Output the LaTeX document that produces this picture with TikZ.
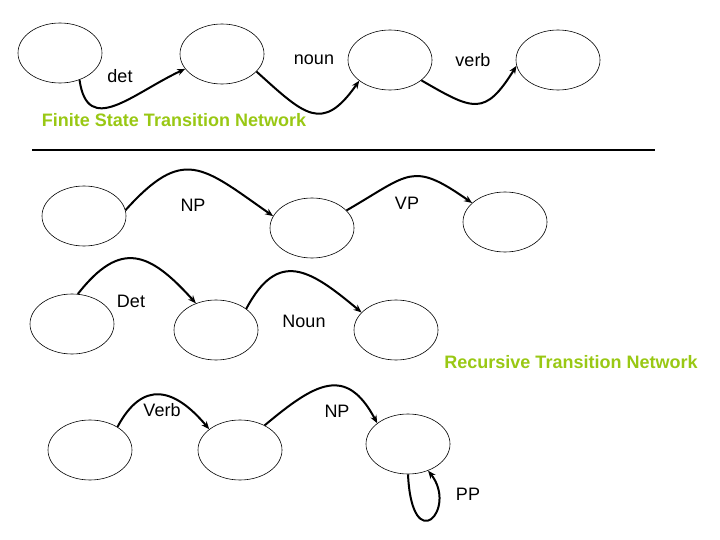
\documentclass[tikz,border=0pt]{standalone}
\usepackage{fontspec}
\setmainfont{Liberation Sans}
\usetikzlibrary{shapes.geometric,arrows.meta}
\definecolor{titlegreen}{RGB}{153,200,20}
\tikzset{
  state/.style={ellipse,draw,line width=0.6pt,minimum width=84pt,minimum height=60pt,inner sep=0pt},
  arc/.style={line width=2pt,-{Stealth[length=8pt,width=6.5pt]}},
  lbl/.style={font=\fontsize{18}{20}\selectfont,inner sep=0pt},
  ttl/.style={font=\fontsize{18}{20}\selectfont\bfseries,text=titlegreen,inner sep=0pt}
}
\begin{document}
\begin{tikzpicture}[x=1pt,y=-1pt]
\useasboundingbox (0,0) rectangle (720,540);
% top row
\node[state] (e1) at (60,53) {};
\node[state] (e2) at (222,54) {};
\node[state] (e3) at (390,60) {};
\node[state] (e4) at (558,60) {};
\draw[arc] (e1.-54) to[out=-82,in=205,looseness=1.4] (e2.202);
\draw[arc] (e2.-27) to[out=-42,in=235,looseness=1.6] (e3.214);
\draw[arc] (e3.-33) to[out=-30,in=238,looseness=1.6] (e4.188);
\node[lbl] (ldet) at (120,76) {det};
\node[lbl] (lnoun) at (314,60) {noun};
\node[lbl] (lverb) at (473,60) {verb};
\node[ttl] (t1) at (174,120) {Finite State Transition Network};
\coordinate (la) at (32,150);
\coordinate (lb) at (655,150);
\draw[line width=1.2pt] (la) -- (lb);
% middle row
\node[state] (e5) at (84,216) {};
\node[state] (e6) at (312,228) {};
\node[state] (e7) at (505,222) {};
\draw[arc] (e5.8) to[out=48,in=145,looseness=1.5] (e6.163);
\draw[arc] (e6.27) to[out=30,in=145,looseness=1.5] (e7.150);
\node[lbl] (lnp) at (193,205) {NP};
\node[lbl] (lvp) at (407,203) {VP};
% lower middle
\node[state] (e8) at (72,324) {};
\node[state] (e9) at (216,330) {};
\node[state] (e10) at (396,330) {};
\draw[arc] (e8.79) to[out=52,in=132,looseness=1.5] (e9.127);
\draw[arc] (e9.35) to[out=62,in=140,looseness=1.5] (e10.153);
\node[lbl] (lDet) at (131,301) {Det};
\node[lbl] (lNoun) at (304,321) {Noun};
\node[ttl] (t2) at (571,362) {Recursive Transition Network};
% bottom
\node[state] (e11) at (90,450) {};
\node[state] (e12) at (240,450) {};
\node[state] (e13) at (408,444) {};
\draw[arc] (e11.40) to[out=62,in=130,looseness=1.5] (e12.146);
\draw[arc] (e12.45) to[out=40,in=118,looseness=1.5] (e13.146);
\draw[arc] (e13.-90) .. controls +(4,85) and +(30,38) .. (e13.-53);
\node[lbl] (lVerb) at (162,410) {Verb};
\node[lbl] (lNP2) at (337,411) {NP};
\node[lbl] (lPP) at (468,494) {PP};
\end{tikzpicture}
\end{document}
